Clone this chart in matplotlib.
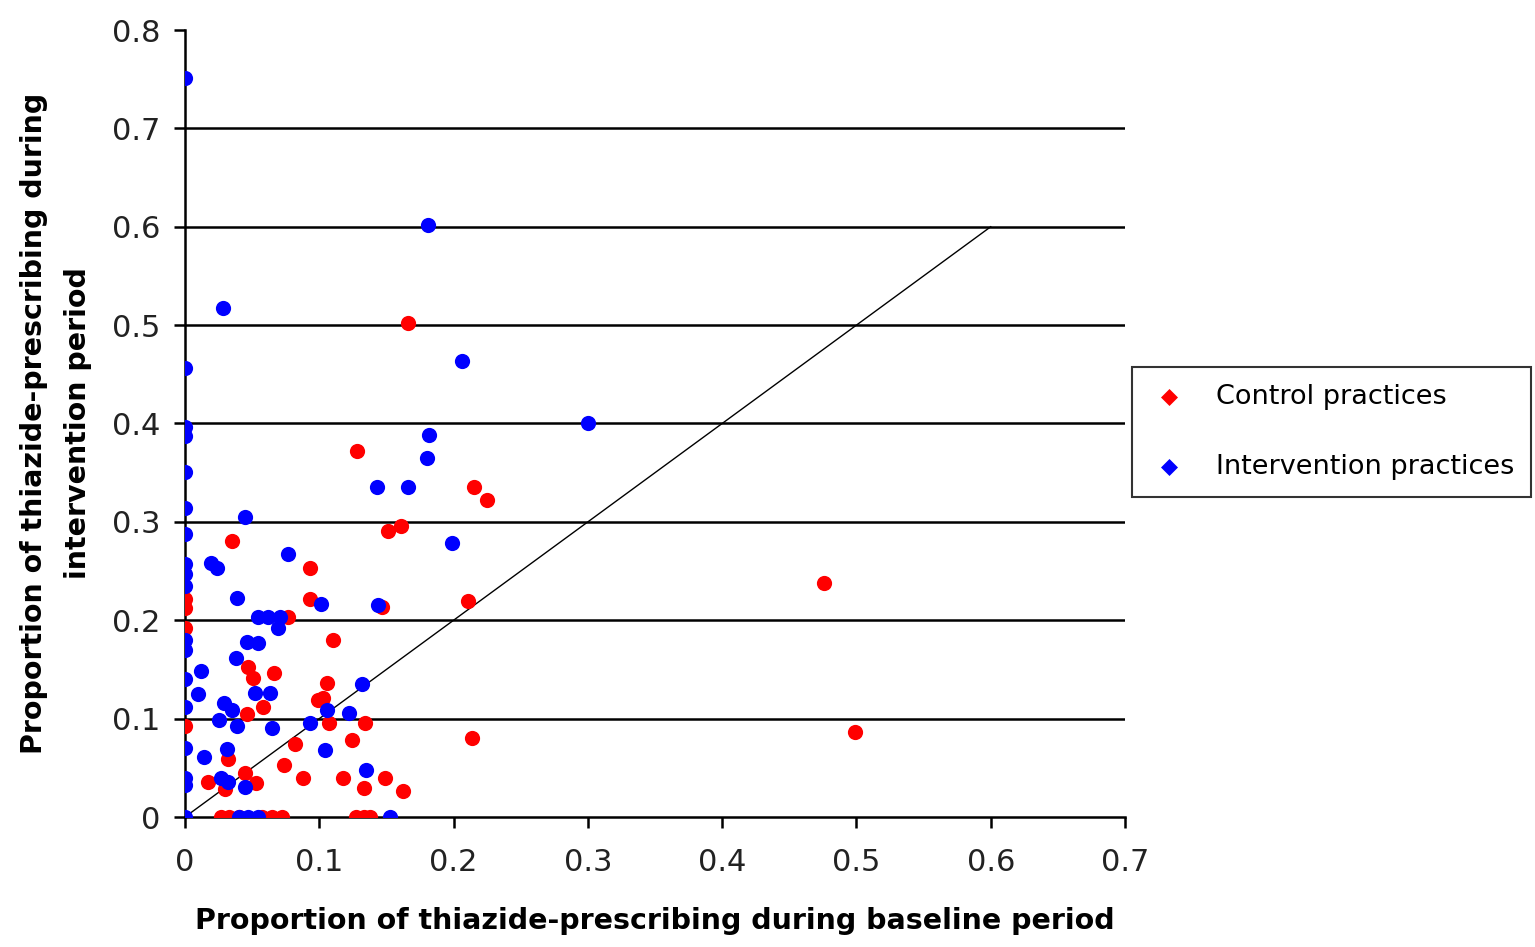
import numpy as np
import matplotlib.pyplot as plt

# control practices (red): baseline proportion, intervention proportion
ctrl_x = [0.166, 0.128, 0.215, 0.225, 0.161, 0.151, 0.035, 0.093, 0.093, 0.147,
          0.211, 0.476, 0.499, 0.214, 0.0, 0.0, 0.0, 0.0, 0.077, 0.110,
          0.047, 0.066, 0.051, 0.106, 0.103, 0.099, 0.107, 0.134, 0.058, 0.046,
          0.082, 0.124, 0.074, 0.088, 0.118, 0.149, 0.162, 0.133, 0.032, 0.017,
          0.030, 0.045, 0.053, 0.027, 0.033, 0.040, 0.057, 0.065, 0.072, 0.127,
          0.133, 0.138]
ctrl_y = [0.502, 0.372, 0.335, 0.322, 0.296, 0.291, 0.281, 0.253, 0.222, 0.213,
          0.220, 0.238, 0.086, 0.080, 0.222, 0.212, 0.192, 0.092, 0.203, 0.180,
          0.152, 0.146, 0.141, 0.136, 0.121, 0.119, 0.096, 0.096, 0.112, 0.105,
          0.074, 0.078, 0.053, 0.040, 0.040, 0.040, 0.026, 0.029, 0.059, 0.036,
          0.028, 0.045, 0.035, 0.0, 0.0, 0.0, 0.0, 0.0, 0.0, 0.0,
          0.0, 0.0]

# intervention practices (blue)
intv_x = [0.0, 0.181, 0.028, 0.206, 0.0, 0.300, 0.0, 0.0, 0.182, 0.180,
          0.0, 0.143, 0.166, 0.0, 0.045, 0.0, 0.199, 0.077, 0.019, 0.024,
          0.0, 0.0, 0.0, 0.039, 0.101, 0.144, 0.0, 0.0, 0.054, 0.062,
          0.071, 0.069, 0.046, 0.054, 0.038, 0.0, 0.012, 0.010, 0.0, 0.029,
          0.035, 0.025, 0.039, 0.065, 0.052, 0.063, 0.132, 0.106, 0.122, 0.093,
          0.104, 0.135, 0.0, 0.0, 0.0, 0.014, 0.031, 0.027, 0.032, 0.045,
          0.0, 0.040, 0.047, 0.054, 0.153]
intv_y = [0.751, 0.602, 0.517, 0.464, 0.456, 0.401, 0.396, 0.387, 0.388, 0.365,
          0.351, 0.335, 0.335, 0.314, 0.305, 0.288, 0.279, 0.267, 0.258, 0.253,
          0.257, 0.247, 0.235, 0.223, 0.217, 0.216, 0.180, 0.170, 0.203, 0.203,
          0.203, 0.192, 0.178, 0.177, 0.162, 0.140, 0.148, 0.125, 0.112, 0.116,
          0.109, 0.099, 0.093, 0.090, 0.126, 0.126, 0.135, 0.109, 0.106, 0.096,
          0.068, 0.048, 0.070, 0.040, 0.033, 0.061, 0.069, 0.040, 0.036, 0.031,
          0.0, 0.0, 0.0, 0.0, 0.0]

xticks = [0, 0.1, 0.2, 0.3, 0.4, 0.5, 0.6, 0.7]
yticks = [0, 0.1, 0.2, 0.3, 0.4, 0.5, 0.6, 0.7, 0.8]
tick_labels_x = ['0', '0.1', '0.2', '0.3', '0.4', '0.5', '0.6', '0.7']
tick_labels_y = ['0', '0.1', '0.2', '0.3', '0.4', '0.5', '0.6', '0.7', '0.8']

fig = plt.figure(figsize=(15.35, 9.47), dpi=100)
ax = fig.add_axes([185/1535, 130/947, 940/1535, 787/947])

for yv in yticks[1:-1]:
    ax.axhline(yv, color='black', lw=1.8, zorder=1)
ax.plot([0, 0.6], [0, 0.6], color='black', lw=1.0, zorder=2)

ax.scatter(ctrl_x, ctrl_y, s=120, c='#ff0000', marker='o', lw=0, zorder=3)
ax.scatter(intv_x, intv_y, s=120, c='#0000ff', marker='o', lw=0, zorder=3)

ax.set_xlim(0, 0.7)
ax.set_ylim(0, 0.8)
ax.set_xticks(xticks)
ax.set_xticklabels(tick_labels_x)
ax.set_yticks(yticks)
ax.set_yticklabels(tick_labels_y)
for sp in ['top', 'right']:
    ax.spines[sp].set_visible(False)
for sp in ['left', 'bottom']:
    ax.spines[sp].set_linewidth(1.8)
ax.tick_params(axis='both', direction='out', length=8, width=1.8, labelsize=22,
               colors='black', labelcolor='#222222')
ax.tick_params(axis='x', pad=14)
ax.tick_params(axis='y', pad=10)

ax.set_xlabel('Proportion of thiazide-prescribing during baseline period',
              fontsize=20.5, fontweight='bold', labelpad=22)
ax.set_ylabel('Proportion of thiazide-prescribing during\nintervention period',
              fontsize=20.5, fontweight='bold', labelpad=14, linespacing=1.75)

# legend handles
h1 = ax.scatter([], [], s=75, c='#ff0000', marker='D', lw=0, label='Control practices')
h2 = ax.scatter([], [], s=75, c='#0000ff', marker='D', lw=0, label='Intervention practices')
leg = fig.legend(handles=[h1, h2], loc='center left',
                 bbox_to_anchor=(1132/1535, 1 - 432/947), fontsize=19.5,
                 frameon=True, fancybox=False, edgecolor='black',
                 labelspacing=1.65, handletextpad=1.0, borderpad=0.6,
                 handlelength=1.5, borderaxespad=0, scatterpoints=1)
leg.get_frame().set_linewidth(1.5)

fig.savefig('out.png', dpi=100, facecolor='white')
